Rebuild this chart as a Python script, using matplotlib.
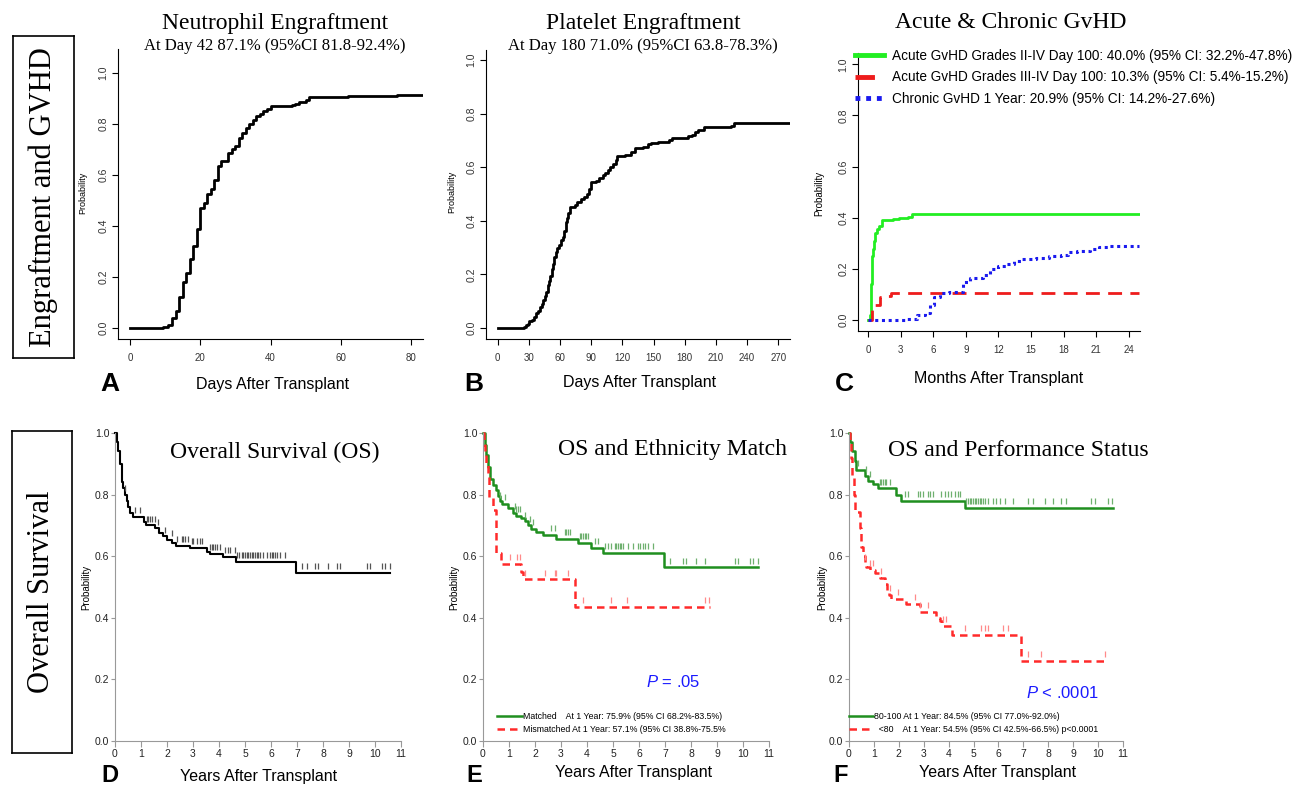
import matplotlib
matplotlib.use("Agg")
import matplotlib.pyplot as plt
import numpy as np

plt.rcParams['font.family'] = ['Liberation Sans', 'DejaVu Sans']
plt.rcParams['mathtext.fontset'] = 'custom'
plt.rcParams['mathtext.it'] = 'Liberation Sans:italic'
plt.rcParams['mathtext.rm'] = 'Liberation Sans'

SERIF = 'Liberation Serif'

# ---- data ----
# A: neutrophil engraftment (days, cumulative probability)
neut_day = [0, 9.5, 10.9, 12, 13, 14, 15, 16, 17, 18, 19, 20, 21, 22, 23, 24, 25, 26, 28, 29,
            30, 31, 32, 33, 34, 35, 36, 37, 38, 39, 40, 46, 47, 48, 50, 51, 62, 76, 83]
neut_p = [0, 0.005, 0.012, 0.04, 0.065, 0.12, 0.18, 0.215, 0.27, 0.32, 0.39, 0.47, 0.49, 0.525,
          0.545, 0.58, 0.635, 0.655, 0.685, 0.70, 0.715, 0.745, 0.765, 0.785, 0.80, 0.815, 0.83,
          0.84, 0.85, 0.86, 0.87, 0.875, 0.88, 0.885, 0.895, 0.905, 0.91, 0.915, 0.915]

# B: platelet engraftment
plt_day = [0, 25, 27, 29, 30, 33, 35, 37, 39, 41, 43, 44, 46, 47, 48, 49, 50, 52, 53, 54,
           56, 57, 59, 61, 63, 64, 66, 67, 68, 70, 74, 76, 80, 83, 86, 88, 90, 95, 98, 101,
           103, 106, 108, 111, 114, 115, 123, 128, 132, 140, 145, 148, 154, 165, 168, 183, 187,
           190, 193, 199, 225, 227, 281]
plt_p = [0, 0.005, 0.01, 0.015, 0.025, 0.03, 0.04, 0.055, 0.065, 0.08, 0.09, 0.105, 0.12, 0.135,
         0.16, 0.175, 0.195, 0.22, 0.24, 0.265, 0.285, 0.30, 0.31, 0.33, 0.34, 0.36, 0.395, 0.41,
         0.43, 0.45, 0.46, 0.47, 0.48, 0.49, 0.50, 0.52, 0.545, 0.55, 0.56, 0.57, 0.58, 0.59, 0.60,
         0.61, 0.625, 0.64, 0.645, 0.655, 0.67, 0.675, 0.685, 0.69, 0.695, 0.70, 0.71, 0.715, 0.72,
         0.73, 0.74, 0.75, 0.755, 0.765, 0.765]

# C: GvHD (months)
agvhd24_mo = [0, 0.2, 0.25, 0.3, 0.4, 0.5, 0.6, 0.8, 1.0, 1.3, 2.3, 2.8, 3.7, 4.0, 25]
agvhd24_p = [0, 0.02, 0.14, 0.25, 0.28, 0.31, 0.34, 0.355, 0.37, 0.39, 0.395, 0.40, 0.405, 0.415, 0.415]
agvhd34_mo = [0, 0.3, 0.6, 1.1, 1.4, 2.1, 25]
agvhd34_p = [0, 0.04, 0.06, 0.09, 0.095, 0.105, 0.105]
cgvhd_mo = [0, 3.5, 4.5, 5.2, 5.7, 6.1, 6.6, 7.4, 8.75, 9.4, 10.6, 11.2, 12.0, 12.7, 13.4, 14.1,
            15.5, 16.7, 17.8, 18.4, 19.2, 20.4, 21.3, 22.1, 25]
cgvhd_p = [0, 0.005, 0.02, 0.03, 0.06, 0.09, 0.105, 0.11, 0.15, 0.165, 0.175, 0.20, 0.21, 0.22,
           0.23, 0.24, 0.245, 0.25, 0.255, 0.265, 0.27, 0.28, 0.285, 0.29, 0.29]
gvhd_labels = ['Acute GvHD Grades II-IV Day 100: 40.0% (95% CI: 32.2%-47.8%)',
               'Acute GvHD Grades III-IV Day 100: 10.3% (95% CI: 5.4%-15.2%)',
               'Chronic GvHD 1 Year: 20.9% (95% CI: 14.2%-27.6%)']

# D: overall survival (years)
os_yr = [0, 0.06, 0.13, 0.19, 0.26, 0.32, 0.38, 0.45, 0.51, 0.58, 0.70, 1.1, 1.2, 1.55, 1.7,
         1.85, 1.99, 2.2, 2.35, 2.88, 3.53, 3.65, 4.17, 4.65, 6.96, 10.58]
os_p = [1.0, 0.97, 0.94, 0.90, 0.84, 0.82, 0.80, 0.78, 0.76, 0.74, 0.727, 0.712, 0.70, 0.69,
        0.675, 0.664, 0.653, 0.642, 0.634, 0.626, 0.615, 0.607, 0.597, 0.582, 0.547, 0.547]
os_cens = [0.38, 0.77, 0.96, 1.22, 1.28, 1.35, 1.41, 1.54, 1.67, 1.92, 2.18, 2.37, 2.56, 2.63,
           2.69, 2.82, 2.95, 3.01, 3.14, 3.27, 3.33, 3.65, 3.72, 3.78, 3.85, 3.91, 4.04, 4.23,
           4.36, 4.42, 4.62, 4.71, 4.78, 4.87, 4.94, 5.0, 5.06, 5.13, 5.19, 5.26, 5.32, 5.38,
           5.45, 5.51, 5.58, 5.71, 5.83, 5.96, 6.03, 6.09, 6.15, 6.22, 6.35, 6.54, 7.18, 7.37,
           7.69, 7.82, 8.21, 8.53, 8.65, 9.68, 9.81, 10.26, 10.38, 10.58]

# E: ethnicity match
em_yr = [0, 0.06, 0.13, 0.19, 0.26, 0.38, 0.51, 0.58, 0.64, 0.74, 0.97, 1.15, 1.26, 1.47, 1.6,
         1.73, 1.86, 2.05, 2.31, 2.82, 3.65, 4.17, 4.62, 6.95, 10.58]
em_p = [1.0, 0.96, 0.93, 0.89, 0.85, 0.83, 0.815, 0.795, 0.778, 0.77, 0.756, 0.74, 0.73, 0.723,
        0.713, 0.70, 0.688, 0.68, 0.669, 0.655, 0.642, 0.628, 0.612, 0.564, 0.564]
em_cens = [0.64, 0.83, 1.22, 1.28, 1.35, 1.41, 1.6, 1.8, 1.92, 2.63, 2.76, 3.14, 3.21, 3.27, 3.33,
           3.72, 3.78, 3.85, 3.91, 3.97, 4.04, 4.29, 4.42, 4.68, 4.81, 4.94, 5.06, 5.13, 5.19,
           5.26, 5.32, 5.38, 5.58, 5.77, 5.96, 6.03, 6.15, 6.22, 6.35, 6.54, 7.18, 7.69, 7.82,
           8.21, 8.53, 9.68, 9.81, 10.26, 10.38, 10.58]
emm_yr = [0, 0.03, 0.09, 0.13, 0.19, 0.23, 0.4, 0.5, 0.68, 1.47, 1.54, 3.53, 8.72]
emm_p = [1.0, 0.96, 0.93, 0.90, 0.86, 0.79, 0.75, 0.61, 0.574, 0.55, 0.525, 0.436, 0.436]
emm_cens = [1.03, 1.31, 1.41, 1.6, 2.37, 2.76, 2.82, 3.27, 3.85, 4.94, 5.54, 8.53, 8.69]
eth_labels = ['Matched    At 1 Year: 75.9% (95% CI 68.2%-83.5%)',
              'Mismatched At 1 Year: 57.1% (95% CI 38.8%-75.5%']

# F: performance status
fg_yr = [0, 0.05, 0.13, 0.23, 0.29, 0.63, 0.76, 0.96, 1.16, 1.87, 2.1, 4.65, 10.6]
fg_p = [1.0, 0.97, 0.94, 0.91, 0.88, 0.86, 0.845, 0.835, 0.82, 0.80, 0.78, 0.756, 0.756]
fg_cens = [0.36, 0.7, 0.83, 1.23, 1.3, 1.37, 1.43, 1.5, 1.63, 2.24, 2.37, 2.77, 2.84, 2.97, 3.17,
           3.24, 3.37, 3.71, 3.84, 3.98, 4.11, 4.24, 4.38, 4.47, 4.71, 4.78, 4.85, 4.91, 4.98,
           5.05, 5.11, 5.18, 5.25, 5.31, 5.38, 5.45, 5.58, 5.78, 5.92, 6.05, 6.25, 6.59, 7.19,
           7.39, 7.86, 8.19, 8.53, 8.73, 9.73, 9.87, 10.4, 10.54]
fr_yr = [0, 0.03, 0.09, 0.13, 0.19, 0.25, 0.43, 0.5, 0.56, 0.63, 0.7, 0.83, 1.03, 1.23, 1.43,
         1.53, 1.59, 1.7, 2.28, 2.84, 3.51, 3.64, 3.75, 4.15, 6.92, 10.27]
fr_p = [1.0, 0.97, 0.92, 0.86, 0.80, 0.745, 0.69, 0.63, 0.60, 0.575, 0.565, 0.555, 0.545, 0.53,
        0.51, 0.49, 0.475, 0.462, 0.445, 0.42, 0.40, 0.39, 0.375, 0.345, 0.26, 0.26]
fr_cens = [0.63, 0.83, 0.96, 1.3, 1.63, 1.97, 2.64, 2.84, 3.17, 3.78, 3.91, 4.65, 5.31, 5.45,
           5.58, 6.18, 6.39, 7.19, 7.72, 10.27]
ps_labels = ['80-100 At 1 Year: 84.5% (95% CI 77.0%-92.0%)',
             '  <80    At 1 Year: 54.5% (95% CI 42.5%-66.5%) p<0.0001']

prob_ticks = [0, 0.2, 0.4, 0.6, 0.8, 1.0]
prob_labels = ['0.0', '0.2', '0.4', '0.6', '0.8', '1.0']

# ---- figure helpers (pixel layout) ----
W, H = 1296, 788
fig = plt.figure(figsize=(W / 100, H / 100), dpi=100)


def px_axes(l, t, r, b):
    return fig.add_axes([l / W, 1 - b / H, (r - l) / W, (b - t) / H])


def ftext(x, y, s, **kw):
    kw.setdefault('ha', 'center')
    kw.setdefault('va', 'center')
    return fig.text(x / W, 1 - y / H, s, **kw)


def km(ax, x, y, **kw):
    return ax.step(x, y, where='post', **kw)[0]


def censor(ax, x, y, t, color):
    x = np.asarray(x)
    y = np.asarray(y)
    t = np.asarray(t)
    idx = np.searchsorted(x, t, side='right') - 1
    ax.plot(t, y[idx] + 0.022, ls='none', marker='|', ms=4.5, mew=0.9, color=color)


def style_r(ax, xticks):
    for s in ['top', 'right']:
        ax.spines[s].set_visible(False)
    ax.set_xticks(xticks)
    ax.set_yticks(prob_ticks)
    ax.set_yticklabels(prob_labels, rotation=90, va='center')
    ax.tick_params(direction='out', length=4, labelsize=7, labelcolor='#333333')
    ax.tick_params(axis='x', pad=6)
    ax.tick_params(axis='y', pad=3, labelsize=7.5)


def style_km(ax):
    for s in ['top', 'right']:
        ax.spines[s].set_visible(False)
    for s in ['left', 'bottom']:
        ax.spines[s].set_color('#999999')
    ax.set_xlim(0, 11)
    ax.set_ylim(0, 1)
    ax.set_xticks(range(12))
    ax.set_yticks(prob_ticks)
    ax.set_yticklabels(prob_labels)
    ax.tick_params(colors='#999999', labelcolor='#222222', labelsize=7.5)
    ax.tick_params(axis='x', length=4, pad=2)
    ax.tick_params(axis='y', length=3, pad=1)


# ---- row label boxes ----
for (l, t, r, b, lab) in [(13, 36, 74, 358, 'Engraftment and GVHD'),
                          (12, 431, 72, 753, 'Overall Survival')]:
    bx = px_axes(l, t, r, b)
    bx.set_xticks([])
    bx.set_yticks([])
    for s in bx.spines.values():
        s.set_linewidth(1.2)
    bx.text(0.5, 0.5, lab, rotation=90, ha='center', va='center', fontsize=22,
            family=SERIF, transform=bx.transAxes)

# ---- A ----
axA = px_axes(118, 49, 423, 339)
km(axA, neut_day, neut_p, color='black', lw=2)
axA.set_xlim(-3.4, 83.4)
axA.set_ylim(-0.043, 1.094)
style_r(axA, [0, 20, 40, 60, 80])
ftext(275, 23, 'Neutrophil Engraftment', family=SERIF, fontsize=17)
ftext(275, 46, 'At Day 42 87.1% (95%CI 81.8-92.4%)', family=SERIF, fontsize=12)
ftext(83, 193, 'Probability', rotation=90, fontsize=6.5)
ftext(273, 385, 'Days After Transplant', fontsize=11.5)
ftext(110, 372, 'A', fontsize=19, fontweight='bold', va='top')

# ---- B ----
axB = px_axes(486, 50, 790, 339)
km(axB, plt_day, plt_p, color='black', lw=2)
axB.set_xlim(-11.2, 281.3)
axB.set_ylim(-0.041, 1.037)
style_r(axB, list(range(0, 271, 30)))
ftext(643, 23, 'Platelet Engraftment', family=SERIF, fontsize=17)
ftext(643, 46, 'At Day 180 71.0% (95%CI 63.8-78.3%)', family=SERIF, fontsize=12)
ftext(452, 192, 'Probability', rotation=90, fontsize=6.5)
ftext(640, 382, 'Days After Transplant', fontsize=11.5)
ftext(474, 372, 'B', fontsize=19, fontweight='bold', va='top')

# ---- C ----
axC = px_axes(858, 53, 1140, 331)
l1 = km(axC, agvhd24_mo, agvhd24_p, color='#22ee22', lw=2, label=gvhd_labels[0])
l2 = km(axC, agvhd34_mo, agvhd34_p, color='#ee1c1c', lw=2, ls=(0, (5, 3)), label=gvhd_labels[1])
l3 = km(axC, cgvhd_mo, cgvhd_p, color='#1a1aee', lw=2.2, ls=(0, (1, 1.2)), label=gvhd_labels[2])
axC.set_xlim(-0.95, 25.05)
axC.set_ylim(-0.042, 1.044)
style_r(axC, list(range(0, 25, 3)))
legC = axC.legend(loc='upper left', bbox_to_anchor=(855 / W, 1 - 49 / H),
                  bbox_transform=fig.transFigure, frameon=False, fontsize=9.8,
                  handlelength=2.1, handletextpad=0.65, labelspacing=0.55,
                  borderpad=0, borderaxespad=0)
for ln in legC.get_lines():
    ln.set_linewidth(3.5)
legC.get_lines()[1].set_linestyle((0, (4, 10)))
ftext(1011, 23, 'Acute & Chronic GvHD', family=SERIF, fontsize=17)
ftext(819, 193, 'Probability', rotation=90, fontsize=7)
ftext(999, 379, 'Months After Transplant', fontsize=11.5)
ftext(844, 372, 'C', fontsize=19, fontweight='bold', va='top')

# ---- D ----
axD = px_axes(115, 433, 401, 741)
km(axD, os_yr, os_p, color='black', lw=1.5, clip_on=False)
censor(axD, os_yr, os_p, os_cens, '#555555')
style_km(axD)
ftext(275, 452, 'Overall Survival (OS)', family=SERIF, fontsize=17)
ftext(86, 587, 'Probability', rotation=90, fontsize=7)
ftext(259, 776, 'Years After Transplant', fontsize=11.5)
ftext(110, 787, 'D', fontsize=17, fontweight='bold', va='bottom')

# ---- E ----
axE = px_axes(483, 433, 769, 741)
g = km(axE, em_yr, em_p, color='#1f8f1f', lw=1.8, clip_on=False, label=eth_labels[0])
r = km(axE, emm_yr, emm_p, color='#ff2a2a', lw=1.8, ls=(0, (3, 2)), clip_on=False, label=eth_labels[1])
censor(axE, em_yr, em_p, em_cens, '#6fb06f')
censor(axE, emm_yr, emm_p, emm_cens, '#ff8a8a')
style_km(axE)
axE.legend(handles=[g, r], loc='lower left', bbox_to_anchor=(497 / W, 1 - 734 / H),
           bbox_transform=fig.transFigure, frameon=False, fontsize=6.3,
           handlelength=2.9, handletextpad=0.1, labelspacing=0.5,
           borderpad=0, borderaxespad=0)
ftext(673, 450, 'OS and Ethnicity Match', family=SERIF, fontsize=17)
ftext(673, 682, r'$\it{P}$ = .05', color='#1a1aff', fontsize=12)
ftext(454, 587, 'Probability', rotation=90, fontsize=7)
ftext(634, 772, 'Years After Transplant', fontsize=11.5)
ftext(474, 787, 'E', fontsize=17, fontweight='bold', va='bottom')

# ---- F ----
axF = px_axes(849, 433, 1123, 741)
g = km(axF, fg_yr, fg_p, color='#1f8f1f', lw=1.8, clip_on=False, label=ps_labels[0])
r = km(axF, fr_yr, fr_p, color='#ff2a2a', lw=1.8, ls=(0, (3, 2)), clip_on=False, label=ps_labels[1])
censor(axF, fg_yr, fg_p, fg_cens, '#6fb06f')
censor(axF, fr_yr, fr_p, fr_cens, '#ff8a8a')
style_km(axF)
axF.legend(handles=[g, r], loc='lower left', bbox_to_anchor=(849 / W, 1 - 734 / H),
           bbox_transform=fig.transFigure, frameon=False, fontsize=6.3,
           handlelength=2.7, handletextpad=0.2, labelspacing=0.5,
           borderpad=0, borderaxespad=0)
ftext(1018, 450, 'OS and Performance Status', family=SERIF, fontsize=17)
ftext(1062, 693, r'$\it{P}$ < .0001', color='#1a1aff', fontsize=12)
ftext(822, 587, 'Probability', rotation=90, fontsize=7)
ftext(998, 773, 'Years After Transplant', fontsize=11.5)
ftext(841, 787, 'F', fontsize=17, fontweight='bold', va='bottom')

fig.savefig('out.png', dpi=100)
